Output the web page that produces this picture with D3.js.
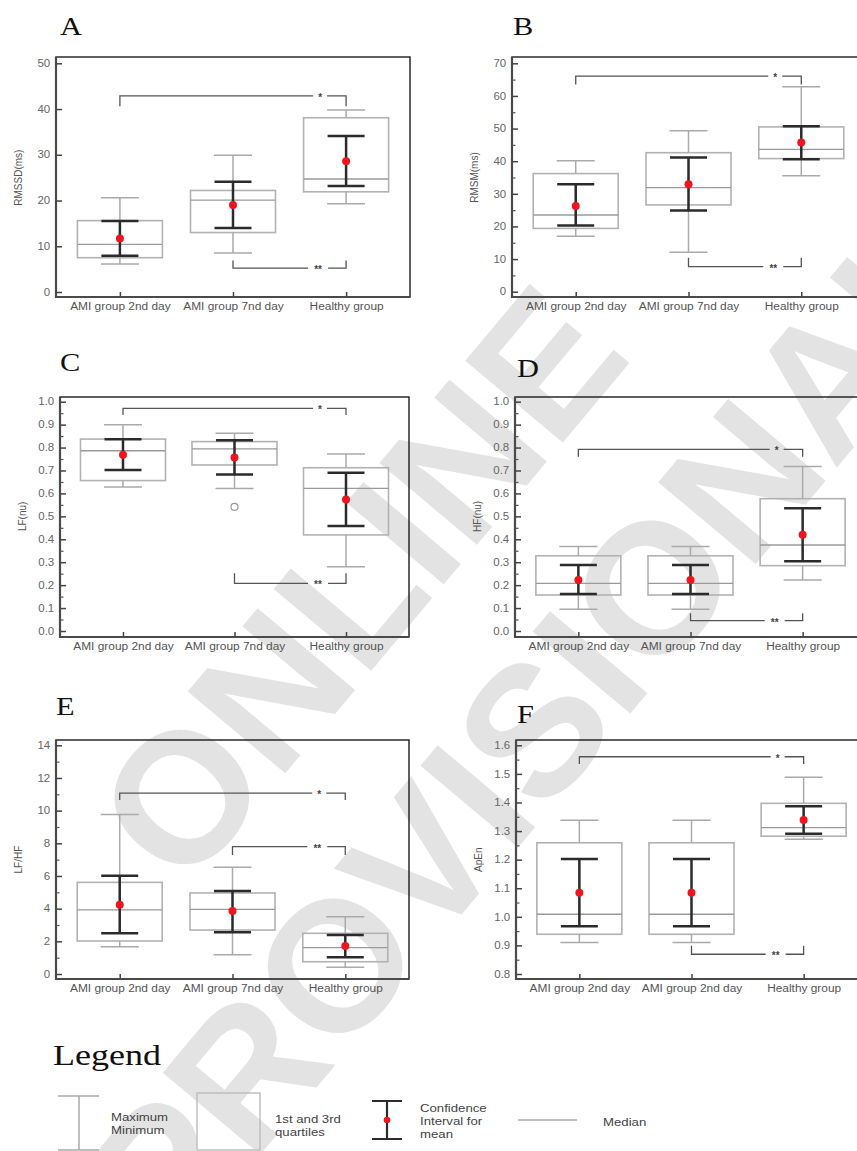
<!DOCTYPE html>
<html>
<head>
<meta charset="utf-8">
<script src="https://cdn.jsdelivr.net/npm/d3@7/dist/d3.min.js"></script>
<style>
  body { margin: 0; background: #fff; }
  svg { display: block; }
</style>
</head>
<body>
<div id="container"></div>
<script>
// x axis groups
var groups  = ["AMI group 2nd day", "AMI group 7nd day", "Healthy group"];
var groupsF = ["AMI group 2nd day", "AMI group 2nd day", "Healthy group"];

// box stats per group: [min, q1, median, q3, max]
// CI per group: [low, high]; sig brackets: [from, to, line value, end value, mark]
var rmssdBox   = [[6.1, 7.5, 10.4, 15.6, 20.6], [8.5, 13.0, 20.1, 22.2, 29.9], [19.3, 21.9, 24.7, 38.1, 39.8]];
var rmssdMean  = [11.7, 19.0, 28.6];
var rmssdCI    = [[7.9, 15.5], [14.0, 24.1], [23.2, 34.1]];
var rmssdTicks = [0, 10, 20, 30, 40, 50];
var rmssdSig   = [[0, 2, 42.9, 40.6, "*"], [1, 2, 5.2, 6.9, "**"]];

var rmsmBox   = [[17.0, 19.4, 23.5, 36.2, 40.1], [12.1, 26.6, 31.9, 42.6, 49.3], [35.5, 40.8, 43.6, 50.5, 62.8]];
var rmsmMean  = [26.3, 32.9, 45.7];
var rmsmCI    = [[20.3, 32.9], [24.9, 41.1], [40.6, 50.7]];
var rmsmTicks = [0, 10, 20, 30, 40, 50, 60, 70];
var rmsmSig   = [[0, 2, 66.1, 63.5, "*"], [1, 2, 7.7, 10.4, "**"]];

var lfBox      = [[0.628, 0.656, 0.786, 0.837, 0.900], [0.621, 0.724, 0.794, 0.826, 0.862], [0.280, 0.419, 0.622, 0.712, 0.772]];
var lfMean     = [0.769, 0.757, 0.574];
var lfCI       = [[0.702, 0.836], [0.683, 0.832], [0.458, 0.690]];
var lfOutliers = [[1, 0.541]];
var lfTicks    = [0, 0.1, 0.2, 0.3, 0.4, 0.5, 0.6, 0.7, 0.8, 0.9, 1.0];
var lfSig      = [[0, 2, 0.971, 0.942, "*"], [1, 2, 0.208, 0.252, "**"]];

var hfBox   = [[0.095, 0.157, 0.208, 0.328, 0.368], [0.095, 0.157, 0.208, 0.328, 0.368], [0.222, 0.285, 0.375, 0.577, 0.717]];
var hfMean  = [0.222, 0.222, 0.420];
var hfCI    = [[0.161, 0.288], [0.161, 0.288], [0.304, 0.535]];
var hfTicks = [0, 0.1, 0.2, 0.3, 0.4, 0.5, 0.6, 0.7, 0.8, 0.9, 1.0];
var hfSig   = [[0, 2, 0.792, 0.760, "*"], [1, 2, 0.045, 0.077, "**"]];

var lfhfBox   = [[1.67, 2.02, 3.92, 5.61, 9.76], [1.18, 2.69, 3.96, 4.96, 6.53], [0.41, 0.75, 1.61, 2.49, 3.51]];
var lfhfMean  = [4.24, 3.86, 1.71];
var lfhfCI    = [[2.49, 6.02], [2.55, 5.08], [1.02, 2.39]];
var lfhfTicks = [0, 2, 4, 6, 8, 10, 12, 14];
var lfhfSig   = [[0, 2, 11.07, 10.65, "*"], [1, 2, 7.80, 7.29, "**"]];

var apenBox   = [[0.910, 0.939, 1.009, 1.259, 1.338], [0.910, 0.939, 1.009, 1.259, 1.338], [1.271, 1.282, 1.312, 1.397, 1.488]];
var apenMean  = [1.084, 1.084, 1.339];
var apenCI    = [[0.967, 1.202], [0.967, 1.202], [1.291, 1.387]];
var apenTicks = [0.8, 0.9, 1.0, 1.1, 1.2, 1.3, 1.4, 1.5, 1.6];
var apenSig   = [[0, 2, 1.560, 1.535, "*"], [1, 2, 0.869, 0.899, "**"]];

// layout of the six panels
var panels = [
  {letter: "A", title: "RMSSD(ms)", labels: groups, box: rmssdBox, mean: rmssdMean, ci: rmssdCI, ticks: rmssdTicks, sig: rmssdSig, fmt: "d",
   left: 56, right: 410, top: 57, bottom: 297, yTop: 63.3, yBot: 292, minor: false, lx: 60, ly: 35},
  {letter: "B", title: "RMSM(ms)", labels: groups, box: rmsmBox, mean: rmsmMean, ci: rmsmCI, ticks: rmsmTicks, sig: rmsmSig, fmt: "d",
   left: 512, right: 865, top: 57, bottom: 297, yTop: 63.3, yBot: 291.7, minor: true, lx: 513, ly: 35},
  {letter: "C", title: "LF(nu)", labels: groups, box: lfBox, mean: lfMean, ci: lfCI, ticks: lfTicks, sig: lfSig, fmt: ".1f", outliers: lfOutliers,
   left: 60, right: 409, top: 397, bottom: 637, yTop: 401.7, yBot: 631, minor: true, lx: 60, ly: 371},
  {letter: "D", title: "HF(nu)", labels: groups, box: hfBox, mean: hfMean, ci: hfCI, ticks: hfTicks, sig: hfSig, fmt: ".1f",
   left: 515, right: 866, top: 397, bottom: 637, yTop: 401.7, yBot: 631, minor: true, lx: 517, ly: 377},
  {letter: "E", title: "LF/HF", labels: groups, box: lfhfBox, mean: lfhfMean, ci: lfhfCI, ticks: lfhfTicks, sig: lfhfSig, fmt: "d",
   left: 56, right: 409, top: 740, bottom: 979, yTop: 745.3, yBot: 974, minor: true, lx: 56, ly: 715},
  {letter: "F", title: "ApEn", labels: groupsF, box: apenBox, mean: apenMean, ci: apenCI, ticks: apenTicks, sig: apenSig, fmt: ".1f",
   left: 516, right: 867, top: 740, bottom: 979, yTop: 745.3, yBot: 974, minor: true, lx: 517, ly: 723}
];

var sans = "'Liberation Sans', Arial, Helvetica, sans-serif";
var serif = "'Liberation Serif', 'Times New Roman', serif";

var svg = d3.select("#container")
  .append("svg")
  .attr("width", 857)
  .attr("height", 1151);

// watermark behind everything
var wm = svg.append("g")
  .attr("transform", "translate(445,655) rotate(-50)")
  .attr("fill", "#e3e3e3")
  .attr("font-family", sans)
  .attr("font-weight", "bold")
  .attr("font-size", 185)
  .attr("text-anchor", "middle");
wm.append("text").attr("y", -113).attr("dy", "0.36em").text("ONLINE");
wm.append("text").attr("y", 113).attr("dy", "0.36em").text("PROVISIONAL");

var boxW = 85, capW = 38, ciW = 37;

panels.forEach(function(p) {
  var g = svg.append("g");

  var x = d3.scalePoint()
    .domain(d3.range(p.labels.length))
    .range([p.left, p.right])
    .padding(0.565);

  var y = d3.scaleLinear()
    .domain([p.ticks[0], p.ticks[p.ticks.length - 1]])
    .range([p.yBot, p.yTop]);

  // panel letter
  g.append("text")
    .attr("transform", "translate(" + p.lx + "," + p.ly + ") scale(1.17,1)")
    .attr("font-family", serif)
    .attr("font-size", 26)
    .attr("fill", "#111")
    .text(p.letter);

  // significance brackets
  p.sig.forEach(function(s) {
    var x0 = x(s[0]), x1 = x(s[1]), yy = y(s[2]), ye = y(s[3]);
    var mx = x1 - (s[4] == "*" ? 26 : 28);
    var gap = s[4] == "*" ? 7 : 10;
    var b = g.append("g").attr("stroke", "#555").attr("stroke-width", 1.3).attr("fill", "none");
    b.append("path").attr("d", "M" + x0 + "," + ye + "V" + yy + "H" + (mx - gap));
    b.append("path").attr("d", "M" + (mx + gap) + "," + yy + "H" + x1 + "V" + ye);
    g.append("text")
      .attr("x", mx)
      .attr("y", yy + 5)
      .attr("text-anchor", "middle")
      .attr("font-family", sans)
      .attr("font-size", 10)
      .attr("font-weight", "bold")
      .attr("fill", "#444")
      .text(s[4]);
  });

  // boxes
  var items = g.append("g")
    .selectAll("g")
    .data(p.box)
    .enter().append("g");

  items.append("rect")
    .attr("x", function(d, i) { return x(i) - boxW / 2; })
    .attr("y", function(d) { return y(d[3]); })
    .attr("width", boxW)
    .attr("height", function(d) { return y(d[1]) - y(d[3]); })
    .attr("fill", "none")
    .attr("stroke", "#b2b2b2")
    .attr("stroke-width", 1.6);

  items.append("path")
    .attr("d", function(d, i) {
      var cx = x(i);
      return "M" + cx + "," + y(d[4]) + "V" + y(d[3]) +
             "M" + cx + "," + y(d[1]) + "V" + y(d[0]) +
             "M" + (cx - capW / 2) + "," + y(d[4]) + "h" + capW +
             "M" + (cx - capW / 2) + "," + y(d[0]) + "h" + capW;
    })
    .attr("fill", "none")
    .attr("stroke", "#aaa")
    .attr("stroke-width", 1.5);

  items.append("line")
    .attr("x1", function(d, i) { return x(i) - boxW / 2; })
    .attr("x2", function(d, i) { return x(i) + boxW / 2; })
    .attr("y1", function(d) { return y(d[2]); })
    .attr("y2", function(d) { return y(d[2]); })
    .attr("stroke", "#9a9a9a")
    .attr("stroke-width", 1.3);

  // confidence interval for mean
  g.append("g")
    .selectAll("path")
    .data(p.ci)
    .enter().append("path")
    .attr("d", function(d, i) {
      var cx = x(i);
      return "M" + cx + "," + y(d[1]) + "V" + y(d[0]) +
             "M" + (cx - ciW / 2) + "," + y(d[1]) + "h" + ciW +
             "M" + (cx - ciW / 2) + "," + y(d[0]) + "h" + ciW;
    })
    .attr("fill", "none")
    .attr("stroke", "#2b2b2b")
    .attr("stroke-width", 2.5);

  g.append("g")
    .selectAll("circle")
    .data(p.mean)
    .enter().append("circle")
    .attr("cx", function(d, i) { return x(i); })
    .attr("cy", function(d) { return y(d); })
    .attr("r", 4)
    .attr("fill", "#f0141e");

  if (p.outliers) {
    g.selectAll(".out")
      .data(p.outliers)
      .enter().append("circle")
      .attr("cx", function(d) { return x(d[0]); })
      .attr("cy", function(d) { return y(d[1]); })
      .attr("r", 3.5)
      .attr("fill", "none")
      .attr("stroke", "#999")
      .attr("stroke-width", 1.2);
  }

  // frame
  g.append("rect")
    .attr("x", p.left)
    .attr("y", p.top)
    .attr("width", p.right - p.left)
    .attr("height", p.bottom - p.top)
    .attr("fill", "none")
    .attr("stroke", "#1a1a1a")
    .attr("stroke-width", 1.4);
  g.append("path")
    .attr("d", "M" + p.left + "," + p.top + "V" + p.bottom + "H" + p.right)
    .attr("fill", "none")
    .attr("stroke", "#4a4a4a")
    .attr("stroke-width", 2.2);

  // y axis, ticks pointing inside
  if (p.minor) {
    var minors = [];
    for (var k = 0; k < p.ticks.length - 1; k++) minors.push((p.ticks[k] + p.ticks[k + 1]) / 2);
    var ym = g.append("g")
      .attr("transform", "translate(" + p.left + ",0)")
      .call(d3.axisLeft(y).tickValues(minors).tickSize(-3.5).tickFormat(""));
    ym.select(".domain").remove();
    ym.selectAll("line").attr("stroke", "#555").attr("stroke-width", 1.2);
  }

  var ya = g.append("g")
    .attr("transform", "translate(" + p.left + ",0)")
    .call(d3.axisLeft(y).tickValues(p.ticks).tickFormat(d3.format(p.fmt)).tickSize(-6).tickPadding(5));
  ya.select(".domain").remove();
  ya.selectAll("line").attr("stroke", "#444").attr("stroke-width", 1.5);
  ya.selectAll("text")
    .attr("fill", "#666")
    .attr("font-family", sans)
    .attr("font-size", 10)
    .attr("transform", "scale(1.15,1)");

  var xa = g.append("g")
    .attr("transform", "translate(0," + p.bottom + ")")
    .call(d3.axisBottom(x).tickSize(-5).tickPadding(6).tickFormat(function(i) { return p.labels[i]; }));
  xa.select(".domain").remove();
  xa.selectAll("line").attr("stroke", "#444").attr("stroke-width", 1.5);
  xa.selectAll("text")
    .attr("fill", "#555")
    .attr("font-family", sans)
    .attr("font-size", 10)
    .attr("transform", "scale(1.19,1)");

  // y title
  g.append("text")
    .attr("transform", "translate(" + (p.left - 38) + "," + ((p.yTop + p.yBot) / 2) + ") rotate(-90)")
    .attr("text-anchor", "middle")
    .attr("dy", "0.35em")
    .attr("font-family", sans)
    .attr("font-size", 10)
    .attr("fill", "#555")
    .text(p.title);
});

// legend
var lg = svg.append("g");

lg.append("text")
  .attr("transform", "translate(53,1065) scale(1.2,1)")
  .attr("font-family", serif)
  .attr("font-size", 30)
  .attr("fill", "#111")
  .text("Legend");

lg.append("path")
  .attr("d", "M79,1096V1150M58,1096H99M58,1150H99")
  .attr("fill", "none")
  .attr("stroke", "#aaa")
  .attr("stroke-width", 1.5);

lg.append("rect")
  .attr("x", 197).attr("y", 1093)
  .attr("width", 63).attr("height", 57)
  .attr("fill", "none")
  .attr("stroke", "#bbb")
  .attr("stroke-width", 1.4);

lg.append("path")
  .attr("d", "M387,1101V1139M372,1101H402M372,1139H402")
  .attr("fill", "none")
  .attr("stroke", "#2b2b2b")
  .attr("stroke-width", 2.2);
lg.append("circle")
  .attr("cx", 387).attr("cy", 1120).attr("r", 3.3)
  .attr("fill", "#f0141e");

lg.append("line")
  .attr("x1", 518).attr("x2", 577)
  .attr("y1", 1120).attr("y2", 1120)
  .attr("stroke", "#aaa")
  .attr("stroke-width", 1.4);

var legendText = [
  [111, 1117, "Maximum"], [111, 1130, "Minimum"],
  [275, 1119, "1st and 3rd"], [275, 1132, "quartiles"],
  [420, 1108, "Confidence"], [420, 1121, "Interval for"], [420, 1134, "mean"],
  [603, 1122, "Median"]
];
lg.selectAll(".lt")
  .data(legendText)
  .enter().append("text")
  .attr("transform", function(d) { return "translate(" + d[0] + "," + d[1] + ") scale(1.2,1)"; })
  .attr("dy", "0.35em")
  .attr("font-family", sans)
  .attr("font-size", 11)
  .attr("fill", "#444")
  .text(function(d) { return d[2]; });
</script>
</body>
</html>
